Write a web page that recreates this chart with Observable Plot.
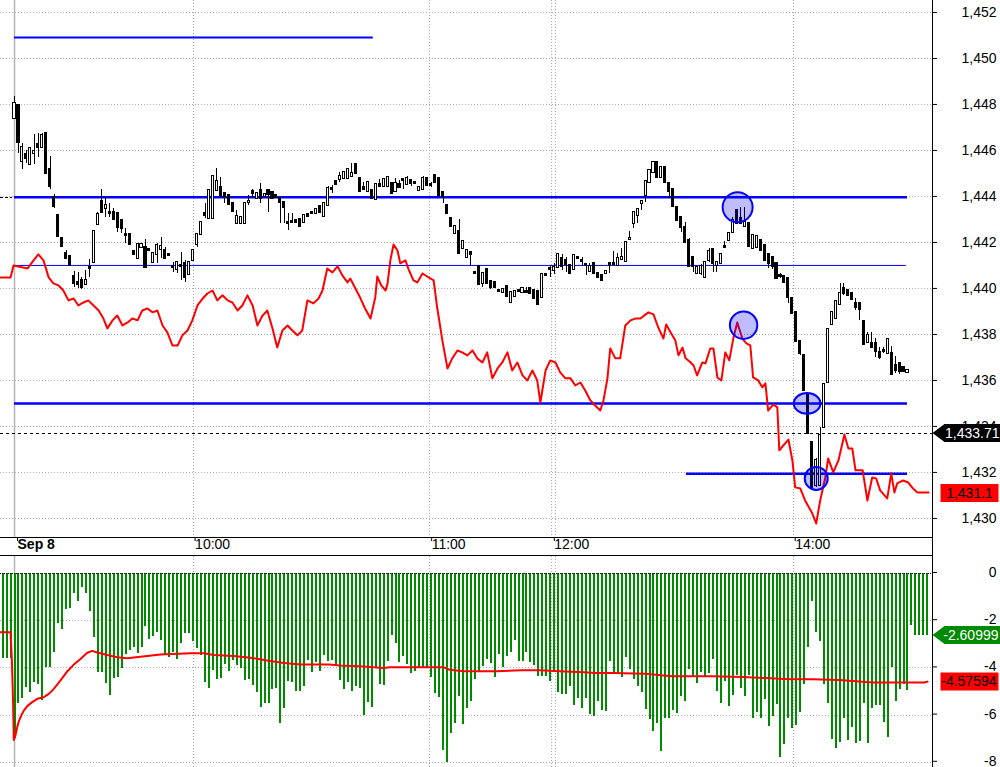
<!DOCTYPE html>
<html><head><meta charset="utf-8">
<script src="https://cdn.jsdelivr.net/npm/d3@7"></script>
<script src="https://cdn.jsdelivr.net/npm/@observablehq/plot@0.6"></script>
<style>
body{margin:0;background:#fff;}
#chart{position:relative;width:1000px;height:767px;overflow:hidden;background:#fff}
#chart svg{display:block}
</style></head><body><div id="chart"></div>
<script>
// ---------- DATA ----------
const candleOpen = [1447.39,1447.95,1445.52,1445.82,1445.39,1445.87,1446.26,1446.13,1446.74,1445.17,1443.95,1443.17,1442.17,1441.52,1441.39,1440.52,1440.26,1440.35,1440.17,1440.91,1441.13,1442.78,1443.78,1443.48,1443.32,1443.30,1443.26,1442.96,1442.35,1442.35,1441.61,1441.30,1441.78,1441.78,1441.70,1441.13,1441.48,1441.70,1441.65,1441.48,1440.96,1440.83,1441.00,1441.09,1440.61,1441.22,1441.91,1442.35,1443.26,1443.04,1443.04,1444.26,1444.39,1444.13,1444.04,1443.70,1442.83,1442.83,1442.83,1443.74,1444.22,1443.91,1444.26,1444.00,1444.26,1444.17,1444.04,1443.91,1443.74,1442.87,1442.91,1442.96,1443.00,1442.87,1443.22,1443.30,1443.26,1443.56,1443.13,1443.61,1444.35,1444.65,1444.74,1444.78,1444.78,1444.87,1445.39,1444.78,1444.39,1444.22,1444.26,1443.87,1444.52,1444.43,1444.43,1444.57,1444.22,1444.52,1444.74,1444.52,1444.70,1444.61,1444.26,1444.30,1444.78,1444.52,1444.91,1444.78,1444.17,1443.61,1443.04,1442.39,1442.48,1441.74,1441.35,1441.56,1440.70,1440.96,1440.22,1440.83,1440.30,1440.26,1439.91,1439.83,1440.09,1439.39,1439.65,1439.91,1439.83,1439.87,1440.00,1439.91,1439.87,1439.61,1440.61,1440.87,1440.78,1440.91,1441.30,1441.22,1441.00,1440.83,1441.35,1441.22,1441.04,1440.74,1441.09,1440.65,1440.57,1440.65,1441.09,1441.07,1441.00,1441.26,1441.17,1442.13,1442.82,1443.17,1443.70,1444.04,1444.61,1445.04,1445.48,1444.83,1445.26,1444.57,1444.30,1443.52,1443.09,1442.65,1442.09,1441.35,1440.65,1440.65,1440.48,1441.22,1441.70,1441.00,1441.09,1441.82,1442.09,1442.43,1443.39,1443.04,1442.70,1442.82,1441.74,1441.78,1442.09,1441.87,1441.48,1441.35,1441.09,1440.58,1440.52,1440.43,1439.57,1438.96,1437.70,1437.09,1435.35,1433.30,1431.43,1431.43,1433.96,1435.91,1438.43,1438.69,1439.30,1440.00,1439.91,1439.78,1439.35,1439.35,1438.56,1437.65,1437.61,1437.61,1437.22,1437.30,1437.17,1437.17,1436.65,1436.74,1436.57,1436.35];
const candleHigh = [1448.35,1447.95,1446.30,1446.00,1446.13,1446.69,1446.74,1446.74,1446.74,1445.74,1444.09,1443.17,1442.17,1441.65,1441.39,1440.74,1440.70,1440.48,1440.78,1441.26,1442.48,1443.30,1444.30,1444.00,1443.70,1443.48,1443.26,1442.96,1442.61,1442.35,1441.65,1441.91,1441.91,1442.13,1441.75,1441.52,1441.96,1442.22,1441.78,1441.48,1441.13,1441.13,1441.57,1441.22,1441.13,1441.65,1442.35,1442.87,1443.70,1444.26,1444.87,1445.22,1444.83,1444.17,1444.04,1443.70,1443.39,1443.09,1443.70,1444.04,1444.30,1444.13,1444.57,1444.13,1444.30,1444.17,1444.04,1443.91,1443.74,1443.26,1443.26,1442.96,1443.00,1443.17,1443.22,1443.30,1443.43,1443.56,1443.70,1444.43,1444.48,1444.65,1445.04,1445.04,1445.22,1445.43,1445.39,1444.78,1444.61,1444.61,1444.26,1444.52,1444.74,1444.74,1444.87,1444.57,1444.78,1444.70,1444.74,1444.87,1444.70,1444.61,1444.39,1444.87,1444.78,1444.61,1444.96,1444.78,1444.17,1443.61,1443.04,1442.70,1443.00,1442.04,1441.65,1441.56,1440.70,1440.96,1440.65,1440.83,1440.30,1440.26,1439.91,1439.96,1440.09,1439.83,1439.87,1439.91,1440.00,1440.04,1440.00,1439.91,1439.87,1440.61,1440.61,1441.00,1441.09,1441.48,1441.48,1441.35,1441.00,1441.43,1441.35,1441.35,1441.04,1441.09,1441.09,1440.65,1440.57,1440.74,1441.13,1441.61,1441.52,1441.74,1442.00,1442.48,1443.35,1443.48,1443.78,1444.65,1445.13,1445.48,1445.48,1445.26,1445.26,1444.57,1444.30,1443.52,1443.09,1442.87,1442.17,1441.35,1440.91,1441.04,1441.13,1441.74,1441.70,1441.13,1441.48,1442.04,1442.43,1443.09,1443.39,1443.52,1443.52,1442.82,1442.30,1442.26,1442.09,1441.87,1441.48,1441.35,1441.09,1440.65,1440.52,1440.43,1439.57,1438.96,1437.70,1437.09,1435.35,1433.30,1432.61,1433.96,1435.82,1438.22,1438.95,1439.43,1440.22,1440.22,1439.91,1439.78,1439.56,1439.35,1438.56,1438.09,1438.09,1437.83,1437.43,1437.43,1437.78,1437.48,1437.04,1436.78,1436.57,1436.43];
const candleLow = [1447.39,1445.87,1445.17,1445.43,1445.35,1445.39,1445.70,1446.13,1445.00,1444.30,1443.48,1442.26,1441.82,1441.30,1441.00,1440.04,1440.00,1439.96,1440.13,1440.48,1441.13,1442.74,1443.30,1443.09,1443.09,1442.96,1442.43,1442.39,1441.96,1441.91,1441.43,1441.30,1441.78,1440.91,1441.60,1441.13,1441.09,1441.30,1441.26,1441.43,1440.70,1440.65,1440.35,1440.26,1440.61,1441.22,1441.78,1442.35,1443.04,1443.04,1443.04,1444.26,1443.91,1443.70,1443.65,1443.35,1442.83,1442.83,1442.83,1443.61,1443.91,1443.91,1443.70,1443.91,1443.30,1443.91,1443.96,1442.83,1442.83,1442.52,1442.83,1442.87,1442.70,1442.87,1443.13,1443.26,1443.26,1443.30,1443.13,1443.61,1444.13,1444.52,1444.61,1444.78,1444.74,1444.83,1445.00,1444.22,1444.26,1444.22,1443.91,1443.87,1444.39,1444.43,1444.39,1444.13,1444.22,1444.35,1444.30,1444.48,1444.43,1444.57,1444.26,1444.30,1444.48,1444.39,1444.61,1444.04,1443.70,1443.26,1442.70,1442.39,1441.52,1441.74,1441.35,1441.00,1440.65,1440.17,1440.04,1440.22,1439.96,1440.04,1439.87,1439.83,1439.65,1439.39,1439.65,1439.87,1439.83,1439.78,1439.78,1439.57,1439.30,1439.61,1440.57,1440.48,1440.61,1440.91,1440.78,1440.70,1440.65,1440.83,1441.30,1441.00,1440.57,1440.74,1440.65,1440.48,1440.35,1440.65,1440.65,1441.00,1441.00,1441.26,1441.17,1442.13,1442.61,1442.82,1443.39,1443.74,1444.61,1445.04,1444.83,1444.83,1444.61,1443.91,1443.56,1442.96,1442.43,1442.00,1440.91,1440.70,1440.65,1440.57,1440.48,1441.13,1440.70,1440.70,1441.09,1441.74,1442.09,1442.43,1442.82,1442.82,1442.70,1441.82,1441.74,1441.78,1441.65,1441.22,1440.87,1440.83,1440.43,1440.43,1440.26,1439.35,1438.91,1437.70,1437.09,1435.57,1433.69,1431.35,1431.35,1431.43,1433.96,1435.91,1438.43,1438.69,1439.30,1439.70,1439.70,1439.52,1439.04,1438.61,1437.56,1437.61,1437.43,1437.00,1436.91,1437.17,1437.17,1436.26,1436.30,1436.26,1436.39,1436.35];
const candleClose = [1448.04,1446.35,1446.13,1445.65,1446.09,1445.96,1446.13,1446.65,1445.00,1444.43,1443.56,1442.26,1441.82,1441.30,1441.00,1440.22,1440.17,1440.04,1440.35,1440.87,1442.48,1443.22,1443.30,1443.61,1443.28,1443.00,1442.65,1442.61,1442.30,1441.91,1441.48,1441.91,1441.91,1440.91,1441.65,1441.52,1441.87,1441.83,1441.30,1441.43,1440.91,1441.13,1440.96,1440.48,1441.13,1441.65,1442.35,1442.87,1443.17,1444.26,1444.87,1444.65,1444.04,1444.00,1443.65,1443.35,1443.13,1443.09,1443.70,1443.78,1444.13,1444.13,1443.91,1444.09,1444.09,1443.91,1443.96,1443.74,1443.52,1442.83,1442.87,1442.87,1442.70,1443.17,1443.13,1443.26,1443.43,1443.30,1443.70,1444.35,1444.30,1444.52,1444.87,1445.04,1445.17,1445.00,1445.00,1444.22,1444.30,1444.61,1443.91,1444.52,1444.43,1444.74,1444.83,1444.13,1444.57,1444.39,1444.70,1444.78,1444.57,1444.57,1444.39,1444.78,1444.48,1444.48,1444.61,1444.04,1444.00,1443.26,1442.70,1442.70,1441.52,1442.04,1441.65,1441.48,1440.65,1440.17,1440.65,1440.22,1440.04,1440.04,1439.87,1439.96,1439.65,1439.83,1439.87,1439.87,1440.00,1439.83,1439.78,1439.57,1439.30,1440.61,1440.57,1440.83,1440.91,1441.48,1440.96,1441.04,1440.65,1441.43,1441.30,1441.17,1441.00,1440.96,1440.65,1440.48,1440.35,1440.74,1441.00,1441.04,1441.30,1441.35,1442.00,1442.17,1443.30,1443.43,1443.78,1444.65,1445.13,1445.48,1444.83,1445.26,1444.61,1444.22,1443.56,1442.96,1442.65,1442.00,1440.96,1440.96,1440.91,1440.96,1441.13,1441.61,1441.09,1441.13,1441.48,1441.78,1442.39,1442.96,1442.82,1442.82,1442.87,1441.82,1442.30,1442.26,1441.65,1441.22,1441.09,1440.96,1440.43,1440.54,1440.26,1439.61,1438.91,1437.70,1437.17,1435.57,1433.69,1431.35,1432.52,1433.61,1435.82,1438.22,1438.95,1439.43,1439.78,1439.78,1439.70,1439.52,1439.17,1439.09,1437.56,1437.96,1437.43,1437.26,1437.00,1437.26,1437.78,1436.26,1436.43,1436.39,1436.39,1436.43];

// red price line (bar position, price)
const redIdx = [-3.53,-1.0,-0.25,3.3,4.8,6.0,7.3,8.6,9.8,11.1,12.3,13.6,14.9,16.1,17.4,18.6,19.9,21.2,22.4,23.4,24.7,25.9,27.2,28.5,29.7,31.0,32.2,33.5,34.8,36.0,37.3,38.5,39.8,41.1,42.3,43.6,44.8,46.1,47.4,48.6,49.9,51.1,52.4,53.7,54.9,56.2,57.4,58.7,60.0,61.2,62.5,63.7,65.0,66.2,67.5,68.8,70.0,71.3,72.5,73.8,75.3,76.6,77.6,78.8,80.1,81.4,82.6,83.9,84.6,85.9,87.2,88.2,89.7,90.9,91.4,92.4,93.5,94.0,94.7,95.5,96.5,97.2,98.5,99.2,100.5,101.5,102.8,104.0,105.6,106.5,107.8,109.1,110.3,111.6,112.8,114.1,115.4,116.6,117.9,119.1,120.4,121.7,122.9,124.2,125.4,126.7,128.0,129.2,130.5,131.7,132.5,133.8,135.0,136.3,137.5,138.8,140.1,141.3,142.6,143.8,145.1,146.3,147.6,148.4,149.4,150.1,151.4,152.6,153.9,155.2,156.4,157.7,159.7,161.0,162.2,163.5,164.2,165.3,166.5,167.3,168.3,169.1,170.1,171.1,172.0,173.3,174.1,175.3,176.1,177.1,178.1,179.1,180.1,181.1,182.1,183.4,184.4,185.4,186.1,187.4,188.4,189.2,189.9,191.2,192.2,192.7,193.7,195.0,196.0,196.7,198.0,199.2,201.0,202.0,203.0,204.3,205.0,206.3,207.6,209.1,210.1,211.1,211.9,213.7,214.9,216.1,217.1,218.1,219.9,220.9,221.7,222.4,223.9,225.2,226.4,227.5,230.3];
const redVal = [1440.48,1440.48,1441.0,1440.87,1441.22,1441.48,1441.22,1440.48,1440.22,1440.13,1439.91,1439.48,1439.56,1439.26,1439.39,1439.48,1439.26,1439.04,1438.69,1438.26,1438.61,1438.82,1438.39,1438.52,1438.69,1438.61,1439.04,1439.13,1438.96,1439.04,1438.39,1438.09,1437.52,1437.52,1437.96,1438.17,1438.61,1439.26,1439.56,1439.78,1439.91,1439.48,1439.70,1439.48,1439.39,1439.04,1439.26,1439.70,1439.26,1438.39,1438.82,1439.04,1438.26,1437.43,1438.17,1438.39,1438.17,1437.96,1438.17,1439.48,1439.35,1439.56,1439.91,1440.87,1440.70,1440.96,1440.57,1440.26,1440.43,1440.00,1439.56,1439.17,1438.69,1439.61,1440.52,1440.13,1439.91,1440.22,1441.22,1441.91,1441.65,1441.09,1441.22,1440.87,1440.35,1440.26,1440.65,1440.52,1440.35,1439.17,1437.74,1436.52,1436.96,1437.30,1437.22,1437.09,1437.30,1436.96,1436.78,1437.22,1436.09,1436.52,1436.78,1437.22,1436.43,1436.78,1436.22,1436.00,1436.43,1436.00,1435.04,1436.43,1436.87,1436.78,1436.35,1436.09,1436.09,1435.78,1435.91,1435.56,1435.13,1434.91,1434.69,1435.13,1436.09,1437.39,1436.96,1436.96,1438.39,1438.61,1438.69,1438.69,1438.96,1438.87,1438.30,1437.82,1438.43,1438.09,1437.74,1437.09,1437.43,1436.96,1436.82,1436.65,1436.22,1436.78,1436.74,1437.39,1437.39,1436.13,1436.00,1437.22,1436.87,1437.82,1438.52,1437.82,1437.61,1437.52,1436.13,1436.00,1435.70,1435.87,1434.69,1434.96,1434.83,1432.96,1433.17,1433.43,1432.52,1431.35,1431.30,1430.78,1430.22,1429.78,1430.78,1431.78,1432.61,1432.00,1432.52,1433.65,1433.04,1433.04,1432.09,1432.09,1430.78,1431.78,1431.74,1431.22,1430.87,1431.96,1431.13,1431.52,1431.65,1431.56,1431.30,1431.13,1431.13];

// oscillator histogram (first bar sits 3 bars before the session start)
const histFirstBar = -3;
const histValues = [-3.59,-3.59,-3.59,-7.01,-5.49,-5.28,-4.82,-5.03,-4.60,-4.72,-5.38,-4.00,-4.00,-3.33,-2.13,-2.37,-1.53,-1.47,-0.86,-1.17,-0.58,-0.83,-1.60,-2.70,-4.18,-4.18,-4.65,-5.16,-4.46,-4.42,-4.01,-3.45,-3.26,-3.15,-3.40,-3.15,-2.23,-2.78,-2.66,-2.49,-2.84,-3.45,-3.55,-3.33,-3.66,-2.98,-2.56,-2.53,-2.87,-3.19,-3.47,-4.60,-4.89,-4.11,-4.51,-4.46,-3.86,-4.15,-3.69,-3.90,-4.04,-4.53,-4.51,-4.75,-5.03,-5.66,-5.49,-5.49,-4.93,-4.89,-6.37,-5.73,-4.58,-4.60,-4.99,-4.99,-4.79,-3.69,-4.18,-3.76,-4.14,-3.47,-3.71,-3.69,-3.90,-4.53,-4.92,-4.60,-4.99,-4.79,-4.86,-6.02,-5.45,-5.66,-3.97,-4.70,-4.75,-3.71,-2.63,-2.95,-3.76,-3.52,-3.86,-4.22,-4.14,-4.00,-4.00,-4.00,-4.39,-5.07,-5.24,-7.50,-7.99,-6.79,-6.34,-5.21,-6.40,-5.71,-5.41,-4.49,-4.14,-3.94,-3.64,-3.80,-4.39,-3.43,-4.00,-3.52,-3.35,-2.84,-3.71,-3.71,-3.35,-3.76,-3.90,-4.36,-4.36,-4.36,-4.56,-4.15,-5.03,-5.13,-5.13,-4.79,-5.59,-5.28,-5.71,-5.28,-5.97,-6.05,-5.41,-5.81,-5.83,-3.71,-4.22,-4.29,-4.39,-3.55,-4.05,-4.51,-4.77,-5.03,-5.75,-6.17,-6.68,-6.37,-7.53,-6.16,-6.16,-5.79,-5.92,-5.20,-5.41,-4.08,-4.36,-4.67,-4.18,-4.36,-4.22,-3.63,-4.99,-5.49,-4.56,-5.62,-5.16,-4.32,-4.89,-5.20,-4.31,-6.13,-5.88,-6.13,-5.35,-6.47,-6.05,-5.56,-7.78,-7.26,-6.16,-6.55,-6.45,-5.88,-4.69,-3.12,-1.17,-2.49,-2.87,-4.69,-5.52,-7.02,-7.43,-7.15,-6.16,-7.08,-6.51,-7.22,-7.11,-5.49,-7.19,-5.71,-5.58,-5.58,-6.30,-6.94,-3.97,-5.41,-4.90,-4.72,-4.96,-2.20,-2.61,-2.61,-2.61,-2.61];

// oscillator average line
const avgIdx = [-3.53,-1.0,-0.68,-0.35,-0.18,0.25,0.68,1.08,1.69,2.34,3.20,4.46,5.72,7.38,8.64,9.90,11.59,13.28,14.94,16.63,18.32,19.58,20.84,23.36,25.88,28.39,33.43,36.78,44.34,47.70,50.21,55.25,59.46,63.67,67.85,72.06,79.36,81.89,87.93,92.97,94.48,108.09,109.60,113.13,121.44,127.74,132.28,137.31,143.36,146.64,150.67,158.98,161.50,165.79,175.86,183.42,189.22,195.26,201.06,207.86,211.14,216.18,229.28,230.03];
const avgVal = [-2.49,-2.49,-3.6,-5.5,-7.05,-6.86,-6.51,-6.27,-6.02,-5.81,-5.62,-5.45,-5.31,-5.24,-5.10,-4.89,-4.53,-4.15,-3.86,-3.62,-3.36,-3.28,-3.35,-3.45,-3.55,-3.59,-3.50,-3.43,-3.38,-3.38,-3.45,-3.50,-3.57,-3.69,-3.79,-3.86,-3.86,-3.90,-3.94,-4.00,-3.97,-3.97,-4.08,-4.14,-4.14,-4.10,-4.10,-4.14,-4.18,-4.22,-4.22,-4.25,-4.29,-4.35,-4.35,-4.39,-4.43,-4.48,-4.48,-4.51,-4.56,-4.62,-4.62,-4.58];

// horizontal level lines (price, first bar, last bar)
const levelVal  = [1450.91, 1443.97, 1441.00, 1435.00, 1431.94];
const levelFrom = [0, 0, 0, 0, 169.3];
const levelTo   = [90.4, 225, 224.7, 225, 225];
const priorLevel = {v: 1443.97, from: -3.53, to: -0.5};
const cursorPrice = 1433.71;

// highlighted circles (bar position, price)
const circleIdx = [182.2, 183.7, 199.7, 202.0];
const circleVal = [1443.53, 1438.40, 1435.00, 1431.74];

// labels
const priceTicks = [1430,1432,1434,1436,1438,1440,1442,1444,1446,1448,1450,1452];
const oscTicks = [0,-2,-4,-6,-8];
const timeTickIdx = [0, 45, 104.6, 135.5, 196.2];
const timeTickLabels = ["Sep 8","10:00","11:00","12:00","14:00"];
const gridIdx = [45, 104.6, 135.4, 136.4, 196.2];
const redLast = 1431.1;
const histLast = -2.60999;
const avgLast = -4.57594;

// ---------- STYLES ----------
const FONT = "Liberation Sans, Arial, Helvetica, sans-serif";
const levelWidth = [2, 2.5, 1, 2.5, 2.5];
const circleRx = [15, 13.7, 13.3, 11.5];
const circleRy = [15, 13.7, 10.3, 11.5];
const BLUE = "#0000ff", RED = "#ff0000", GREEN = "#008a00", GRID = "#a9a9a9";
const xDomain = [-3.53, 231.3];
const CRISP = "crispEdges";

// ---------- BUILD ----------
const candles = candleOpen.map((o, i) => ({i, o, h: candleHigh[i], l: candleLow[i], c: candleClose[i]}));
const redLine = redIdx.map((x, i) => ({x, y: redVal[i]}));
const hist = histValues.map((v, i) => ({i: histFirstBar + i, v}));
const avgLine = avgIdx.map((x, i) => ({x, y: avgVal[i]}));
const levels = levelVal.map((v, i) => ({v, from: levelFrom[i], to: levelTo[i], w: levelWidth[i]}));
const circles = circleIdx.map((x, i) => ({x, y: circleVal[i], rx: circleRx[i], ry: circleRy[i]}));
const tickLabel = new Map(timeTickIdx.map((t, i) => [t, timeTickLabels[i]]));

function ellipseSymbol(rx, ry) {
  const k = 0.5523;
  return {draw(ctx) {
    ctx.moveTo(rx, 0);
    ctx.bezierCurveTo(rx, ry * k, rx * k, ry, 0, ry);
    ctx.bezierCurveTo(-rx * k, ry, -rx, ry * k, -rx, 0);
    ctx.bezierCurveTo(-rx, -ry * k, -rx * k, -ry, 0, -ry);
    ctx.bezierCurveTo(rx * k, -ry, rx, -ry * k, rx, 0);
    ctx.closePath();
  }};
}
function boxSymbol(x0, x1, hh, arrow) {
  return {draw(ctx) {
    if (arrow) { ctx.moveTo(x0, 0); ctx.lineTo(x0 + arrow, -hh); }
    else ctx.moveTo(x0, -hh);
    ctx.lineTo(x1, -hh); ctx.lineTo(x1, hh);
    if (arrow) ctx.lineTo(x0 + arrow, hh); else ctx.lineTo(x0, hh);
    ctx.closePath();
  }};
}

const yTop = [1429.17, 1452.52];
const topChart = Plot.plot({
  width: 1000, height: 556,
  marginLeft: 0, marginRight: 68, marginTop: 0, marginBottom: 19,
  style: {fontFamily: FONT, fontSize: "14px", background: "#fff", color: "#000"},
  x: {domain: xDomain},
  y: {domain: yTop},
  marks: [
    Plot.ruleY(priceTicks, {stroke: GRID, strokeDasharray: "1,2", shapeRendering: CRISP}),
    Plot.ruleX(gridIdx, {stroke: GRID, strokeDasharray: "1,2", shapeRendering: CRISP}),
    Plot.ruleX([0], {stroke: "#b4b4b4", strokeWidth: 1.5}),
    Plot.ruleY([cursorPrice], {stroke: "#000", strokeDasharray: "3,3", shapeRendering: CRISP}),
    Plot.ruleY([priorLevel], {y: "v", x1: "from", x2: "to", stroke: "#000", strokeDasharray: "3,2", shapeRendering: CRISP}),
    ...levels.map(l => Plot.ruleY([l], {y: "v", x1: "from", x2: "to", stroke: BLUE, strokeWidth: l.w})),
    Plot.line(redLine, {x: "x", y: "y", stroke: RED, strokeWidth: 2}),
    Plot.ruleX(candles, {x: "i", y1: "l", y2: "h", stroke: "#000", strokeWidth: 1, shapeRendering: CRISP}),
    Plot.rect(candles, {
      x1: d => d.i - 0.26, x2: d => d.i + 0.26,
      y1: d => Math.min(d.o, d.c), y2: d => Math.max(d.o, d.c),
      insetTop: -0.5, insetBottom: -0.5,
      fill: d => d.c > d.o ? "#fff" : "#000", stroke: "#000", strokeWidth: 1, shapeRendering: CRISP
    }),
    ...circles.map(c => Plot.dot([c], {x: "x", y: "y", symbol: ellipseSymbol(c.rx, c.ry), r: 10,
      fill: BLUE, fillOpacity: 0.26, stroke: BLUE, strokeWidth: 2})),
    // frame lines of the time band and the price axis line
    Plot.ruleY([yTop[0]], {stroke: "#000", shapeRendering: CRISP}),
    Plot.ruleY([yTop[0]], {stroke: "#000", dy: 18, shapeRendering: CRISP}),
    Plot.ruleX([xDomain[1]], {stroke: "#000", insetBottom: -19, shapeRendering: CRISP}),
    Plot.axisY(priceTicks, {anchor: "right", tickSize: 4, tickPadding: 60, textAnchor: "end",
      tickFormat: d3.format(","), fontSize: 14, label: null}),
    Plot.axisX(timeTickIdx.slice(0, 1), {anchor: "bottom", tickSize: 4, tickPadding: -2, textAnchor: "start", dx: 3,
      tickFormat: d => tickLabel.get(d), fontSize: 14, fontWeight: "bold", label: null}),
    Plot.axisX(timeTickIdx.slice(1), {anchor: "bottom", tickSize: 4, tickPadding: -2, textAnchor: "start", dx: 2,
      tickFormat: d => tickLabel.get(d), fontSize: 14, label: null}),
    // value flags
    Plot.dot([cursorPrice], {y: d => d, frameAnchor: "right", symbol: boxSymbol(0, 68, 9, 12), r: 10, fill: "#000", stroke: null}),
    Plot.text([cursorPrice], {y: d => d, frameAnchor: "right", dx: 67, textAnchor: "end", text: d => d3.format(",.2f")(d), fill: "#fff", fontSize: 14}),
    Plot.dot([redLast], {y: d => d, frameAnchor: "right", symbol: boxSymbol(8, 66, 9, 0), r: 10, fill: RED, stroke: null}),
    Plot.text([redLast], {y: d => d, frameAnchor: "right", dx: 37, textAnchor: "middle", text: d => d3.format(",.1f")(d), fill: "#000", fontSize: 14})
  ]
});

const yBot = [-8.22, 0.72];
const bottomChart = Plot.plot({
  width: 1000, height: 211,
  marginLeft: 0, marginRight: 68, marginTop: 0, marginBottom: 0,
  style: {fontFamily: FONT, fontSize: "14px", background: "#fff", color: "#000"},
  x: {domain: xDomain, axis: null},
  y: {domain: yBot},
  marks: [
    Plot.ruleY(oscTicks.filter(d => d !== 0), {stroke: GRID, strokeDasharray: "1,2", shapeRendering: CRISP}),
    Plot.ruleX(gridIdx, {stroke: GRID, strokeDasharray: "1,2", shapeRendering: CRISP}),
    Plot.ruleX([0], {stroke: "#b4b4b4", strokeWidth: 1.5}),
    Plot.ruleX(hist, {x: "i", y1: 0, y2: "v", stroke: GREEN, strokeWidth: 2, shapeRendering: CRISP}),
    Plot.ruleY([0], {stroke: "#000", strokeDasharray: "1,1", shapeRendering: CRISP}),
    Plot.line(avgLine, {x: "x", y: "y", stroke: RED, strokeWidth: 2}),
    Plot.ruleX([xDomain[1]], {stroke: "#000", shapeRendering: CRISP}),
    Plot.axisY(oscTicks, {anchor: "right", tickSize: 4, tickPadding: 60, textAnchor: "end",
      tickFormat: d => String(d), fontSize: 14, label: null, dy: -1}),
    Plot.dot([histLast], {y: d => d, frameAnchor: "right", symbol: boxSymbol(0, 68, 9, 12), r: 10, fill: GREEN, stroke: null}),
    Plot.text([histLast], {y: d => d, frameAnchor: "right", dx: 66, textAnchor: "end", text: d => d.toFixed(5), fill: "#fff", fontSize: 14}),
    Plot.dot([avgLast], {y: d => d, frameAnchor: "right", symbol: boxSymbol(8, 66, 9, 0), r: 10, fill: RED, stroke: null}),
    Plot.text([avgLast], {y: d => d, frameAnchor: "right", dx: 64, textAnchor: "end", text: d => d.toFixed(5), fill: "#000", fontSize: 14})
  ]
});

const root = document.getElementById("chart");
root.appendChild(topChart);
root.appendChild(bottomChart);
</script></body></html>
